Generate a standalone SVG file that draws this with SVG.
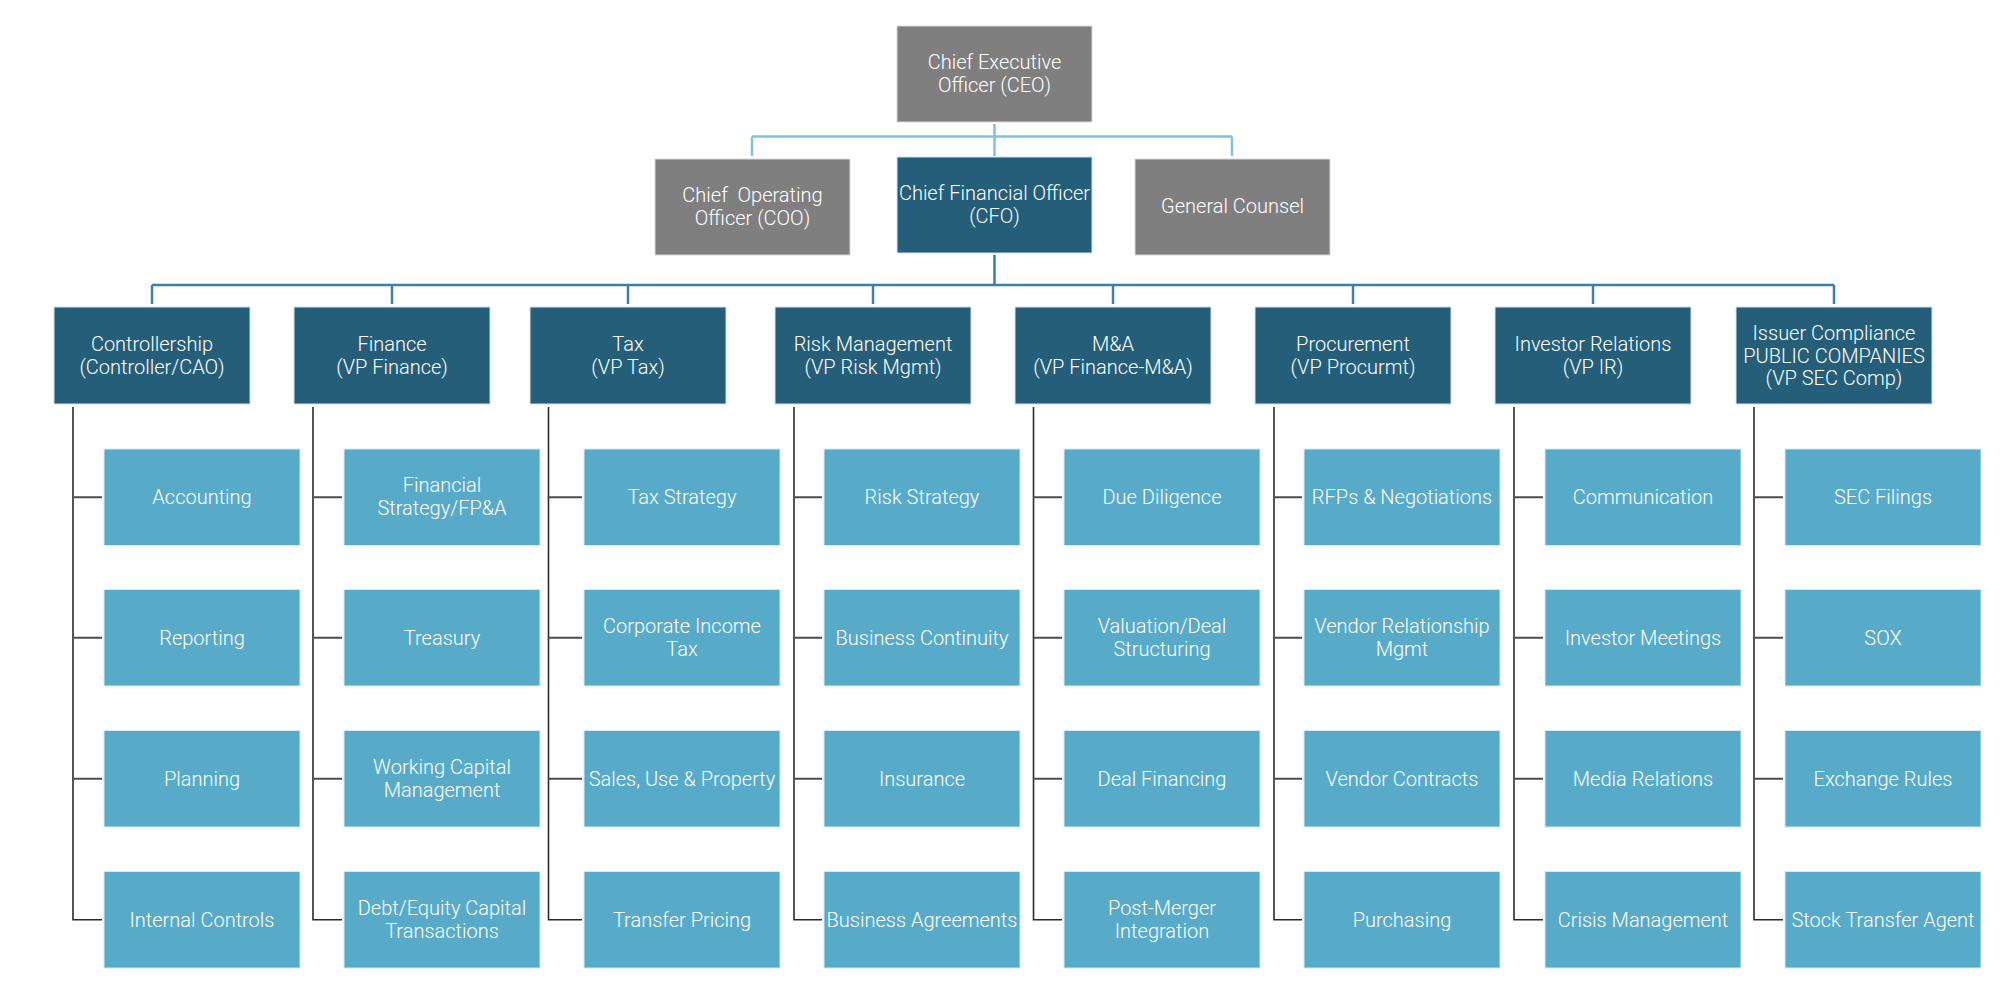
<svg xmlns="http://www.w3.org/2000/svg" width="2000" height="992" viewBox="0 0 2000 992">
<style>
text{font-family:Roboto,"Liberation Sans",Arial,sans-serif;font-weight:300;font-size:20px;fill:#ffffff;text-anchor:middle}
.gray{fill:#7f7f7f;stroke:#d9d9d9;stroke-width:1}
.dark{fill:#255e78;stroke:#cfe3ec;stroke-width:1}
.light{fill:#57abc9;stroke:#d6eaf3;stroke-width:1}
.ceo{fill:none;stroke:#7cc4dd;stroke-width:2.5}
.cfo{fill:none;stroke:#3a81a8;stroke-width:2.5}
.vl{fill:none;stroke:#2b2b2b;stroke-width:1.6}
.st{fill:none;stroke:#4d4d4d;stroke-width:2}
</style>
<rect width="2000" height="992" fill="#ffffff"/>
<g id="connectors">
<path class="ceo" d="M994.5 124V156M752 136.5H1232M752 136.5V156M1232 136.5V156"/>
<path class="cfo" d="M994.5 255V285M152 285H1834M152 285V304M392 285V304M628 285V304M873 285V304M1113 285V304M1353 285V304M1593 285V304M1834 285V304"/>
<path class="vl" d="M73 407V919.7H102M313 407V919.7H342M548.5 407V919.7H582M794 407V919.7H822M1033.5 407V919.7H1062M1274 407V919.7H1302M1514 407V919.7H1543M1754 407V919.7H1783"/>
<path class="st" d="M73 497.2H102M73 637.7H102M73 778.7H102M313 497.2H342M313 637.7H342M313 778.7H342M548.5 497.2H582M548.5 637.7H582M548.5 778.7H582M794 497.2H822M794 637.7H822M794 778.7H822M1033.5 497.2H1062M1033.5 637.7H1062M1033.5 778.7H1062M1274 497.2H1302M1274 637.7H1302M1274 778.7H1302M1514 497.2H1543M1514 637.7H1543M1514 778.7H1543M1754 497.2H1783M1754 637.7H1783M1754 778.7H1783"/>
</g>
<g id="ceo"><rect class="gray" x="897" y="26" width="195" height="96"/><text x="994.5" y="69">Chief Executive</text><text x="994.5" y="92">Officer (CEO)</text></g>
<g id="coo"><rect class="gray" x="655" y="159" width="195" height="96"/><text x="752.5" y="202" xml:space="preserve">Chief  Operating</text><text x="752.5" y="225">Officer (COO)</text></g>
<g id="cfo"><rect class="dark" x="897" y="157" width="195" height="96"/><text x="994.5" y="200">Chief Financial Officer</text><text x="994.5" y="223">(CFO)</text></g>
<g id="gc"><rect class="gray" x="1135" y="159" width="195" height="96"/><text x="1232.5" y="213">General Counsel</text></g>

<g id="controllership"><rect class="dark" x="54" y="307" width="196" height="97"/><text x="152" y="350.5">Controllership</text><text x="152" y="373.5">(Controller/CAO)</text></g>
<g id="finance"><rect class="dark" x="294" y="307" width="196" height="97"/><text x="392" y="350.5">Finance</text><text x="392" y="373.5">(VP Finance)</text></g>
<g id="tax"><rect class="dark" x="530" y="307" width="196" height="97"/><text x="628" y="350.5">Tax</text><text x="628" y="373.5">(VP Tax)</text></g>
<g id="risk"><rect class="dark" x="775" y="307" width="196" height="97"/><text x="873" y="350.5">Risk Management</text><text x="873" y="373.5">(VP Risk Mgmt)</text></g>
<g id="ma"><rect class="dark" x="1015" y="307" width="196" height="97"/><text x="1113" y="350.5">M&amp;A</text><text x="1113" y="373.5">(VP Finance-M&amp;A)</text></g>
<g id="procurement"><rect class="dark" x="1255" y="307" width="196" height="97"/><text x="1353" y="350.5">Procurement</text><text x="1353" y="373.5">(VP Procurmt)</text></g>
<g id="ir"><rect class="dark" x="1495" y="307" width="196" height="97"/><text x="1593" y="350.5">Investor Relations</text><text x="1593" y="373.5">(VP IR)</text></g>
<g id="issuer"><rect class="dark" x="1736" y="307" width="196" height="97"/><text x="1834" y="340">Issuer Compliance</text><text x="1834" y="362.5">PUBLIC COMPANIES</text><text x="1834" y="385">(VP SEC Comp)</text></g>

<g id="accounting"><rect class="light" x="104" y="449" width="196" height="96.5"/><text x="202" y="504">Accounting</text></g>
<g id="reporting"><rect class="light" x="104" y="589.5" width="196" height="96.5"/><text x="202" y="644.5">Reporting</text></g>
<g id="planning"><rect class="light" x="104" y="730.5" width="196" height="96.5"/><text x="202" y="785.5">Planning</text></g>
<g id="internal-controls"><rect class="light" x="104" y="871.5" width="196" height="96.5"/><text x="202" y="926.5">Internal Controls</text></g>

<g id="fin-strategy"><rect class="light" x="344" y="449" width="196" height="96.5"/><text x="442" y="492">Financial</text><text x="442" y="515">Strategy/FP&amp;A</text></g>
<g id="treasury"><rect class="light" x="344" y="589.5" width="196" height="96.5"/><text x="442" y="644.5">Treasury</text></g>
<g id="working-capital"><rect class="light" x="344" y="730.5" width="196" height="96.5"/><text x="442" y="774">Working Capital</text><text x="442" y="797">Management</text></g>
<g id="debt-equity"><rect class="light" x="344" y="871.5" width="196" height="96.5"/><text x="442" y="915">Debt/Equity Capital</text><text x="442" y="938">Transactions</text></g>

<g id="tax-strategy"><rect class="light" x="584" y="449" width="196" height="96.5"/><text x="682" y="504">Tax Strategy</text></g>
<g id="corporate-income-tax"><rect class="light" x="584" y="589.5" width="196" height="96.5"/><text x="682" y="633">Corporate Income</text><text x="682" y="656">Tax</text></g>
<g id="sales-use"><rect class="light" x="584" y="730.5" width="196" height="96.5"/><text x="682" y="785.5">Sales, Use &amp; Property</text></g>
<g id="transfer-pricing"><rect class="light" x="584" y="871.5" width="196" height="96.5"/><text x="682" y="926.5">Transfer Pricing</text></g>

<g id="risk-strategy"><rect class="light" x="824" y="449" width="196" height="96.5"/><text x="922" y="504">Risk Strategy</text></g>
<g id="business-continuity"><rect class="light" x="824" y="589.5" width="196" height="96.5"/><text x="922" y="644.5">Business Continuity</text></g>
<g id="insurance"><rect class="light" x="824" y="730.5" width="196" height="96.5"/><text x="922" y="785.5">Insurance</text></g>
<g id="business-agreements"><rect class="light" x="824" y="871.5" width="196" height="96.5"/><text x="922" y="926.5">Business Agreements</text></g>

<g id="due-diligence"><rect class="light" x="1064" y="449" width="196" height="96.5"/><text x="1162" y="504">Due Diligence</text></g>
<g id="valuation"><rect class="light" x="1064" y="589.5" width="196" height="96.5"/><text x="1162" y="633">Valuation/Deal</text><text x="1162" y="656">Structuring</text></g>
<g id="deal-financing"><rect class="light" x="1064" y="730.5" width="196" height="96.5"/><text x="1162" y="785.5">Deal Financing</text></g>
<g id="post-merger"><rect class="light" x="1064" y="871.5" width="196" height="96.5"/><text x="1162" y="915">Post-Merger</text><text x="1162" y="938">Integration</text></g>

<g id="rfps"><rect class="light" x="1304" y="449" width="196" height="96.5"/><text x="1402" y="504">RFPs &amp; Negotiations</text></g>
<g id="vendor-relationship"><rect class="light" x="1304" y="589.5" width="196" height="96.5"/><text x="1402" y="633">Vendor Relationship</text><text x="1402" y="656">Mgmt</text></g>
<g id="vendor-contracts"><rect class="light" x="1304" y="730.5" width="196" height="96.5"/><text x="1402" y="785.5">Vendor Contracts</text></g>
<g id="purchasing"><rect class="light" x="1304" y="871.5" width="196" height="96.5"/><text x="1402" y="926.5">Purchasing</text></g>

<g id="communication"><rect class="light" x="1545" y="449" width="196" height="96.5"/><text x="1643" y="504">Communication</text></g>
<g id="investor-meetings"><rect class="light" x="1545" y="589.5" width="196" height="96.5"/><text x="1643" y="644.5">Investor Meetings</text></g>
<g id="media-relations"><rect class="light" x="1545" y="730.5" width="196" height="96.5"/><text x="1643" y="785.5">Media Relations</text></g>
<g id="crisis-management"><rect class="light" x="1545" y="871.5" width="196" height="96.5"/><text x="1643" y="926.5">Crisis Management</text></g>

<g id="sec-filings"><rect class="light" x="1785" y="449" width="196" height="96.5"/><text x="1883" y="504">SEC Filings</text></g>
<g id="sox"><rect class="light" x="1785" y="589.5" width="196" height="96.5"/><text x="1883" y="644.5">SOX</text></g>
<g id="exchange-rules"><rect class="light" x="1785" y="730.5" width="196" height="96.5"/><text x="1883" y="785.5">Exchange Rules</text></g>
<g id="stock-transfer"><rect class="light" x="1785" y="871.5" width="196" height="96.5"/><text x="1883" y="926.5">Stock Transfer Agent</text></g>
</svg>
